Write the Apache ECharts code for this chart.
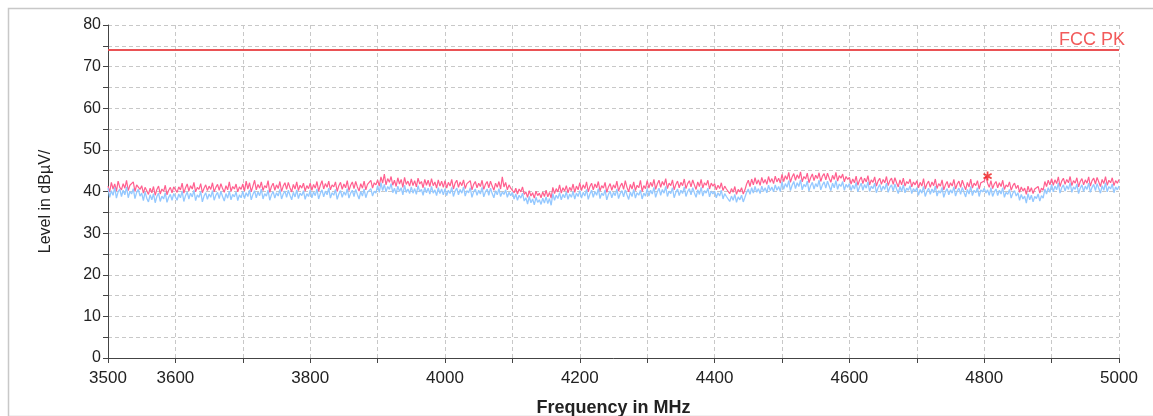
<!DOCTYPE html>
<html>
<head>
<meta charset="utf-8">
<script src="https://cdn.jsdelivr.net/npm/echarts@6/dist/echarts.min.js"></script>
<style>html,body{margin:0;padding:0;background:#fff;overflow:hidden;}#c{width:1153px;height:416px;}</style>
</head>
<body>
<div id="c"></div>
<script>
// Sweep: 3500 MHz to 5000 MHz, one reading every 2.5 MHz
const freqStart = 3500;
const freqStep = 2.5;
const xTickLabels = [3500, 3600, 3800, 4000, 4200, 4400, 4600, 4800, 5000];
const yTickLabels = [0, 10, 20, 30, 40, 50, 60, 70, 80];

// Peak trace (pink), dBµV/m — 40 readings per 100 MHz
const peakValues = [
  41.3,39.9,42.2,40.6,41.8,40.1,42.5,41.0,40.4,41.9,40.8,42.7,40.2,41.5,41.1,42.3,40.0,41.6,42.0,40.5,
  41.4,39.6,41.0,40.2,39.3,40.8,39.7,41.2,39.1,40.5,41.3,39.4,40.6,40.0,41.5,39.2,40.3,41.0,39.7,41.1,
  41.5,39.8,41.1,40.4,42.0,39.6,40.9,41.8,40.1,41.4,40.6,42.2,39.9,41.0,40.5,41.9,39.7,40.8,41.6,40.2,
  41.3,40.5,42.1,39.9,41.0,41.7,40.3,41.9,40.7,39.8,41.4,40.4,42.3,40.0,41.2,40.6,41.8,39.9,41.1,40.5,
  41.8,40.1,42.5,40.6,42.1,39.9,41.3,42.7,40.4,41.7,40.8,42.3,40.2,41.4,40.9,42.6,39.8,41.2,42.0,40.3,
  41.6,40.7,42.4,40.0,41.3,42.1,40.5,42.2,40.9,39.9,41.7,40.6,42.3,40.2,41.5,40.8,42.0,40.1,41.4,40.7,
  42.0,40.3,41.7,40.8,42.4,40.1,41.5,42.6,40.6,41.9,41.0,42.5,40.4,41.6,41.1,42.3,40.0,41.4,42.2,40.5,
  41.8,40.9,42.6,40.2,41.5,42.3,40.7,42.4,41.1,40.1,41.9,40.8,42.5,40.4,41.7,41.3,42.7,40.8,42.1,41.6,
  42.8,41.3,43.5,42.0,44.2,41.6,43.1,42.2,43.6,41.5,42.7,41.2,43.3,41.8,42.9,41.0,43.4,41.7,42.5,41.3,
  43.0,41.4,42.6,41.1,43.2,41.8,42.4,40.9,42.9,41.5,42.7,41.2,43.1,41.4,42.3,40.8,42.8,41.3,42.5,41.0,
  42.6,40.8,42.2,41.3,42.9,40.6,42.0,42.7,41.0,42.3,41.4,42.8,40.7,41.9,41.5,42.6,40.4,41.7,42.4,40.9,
  42.0,41.2,42.7,40.5,41.7,42.4,40.9,42.5,41.3,40.3,42.0,41.0,42.4,40.6,43.5,41.1,42.2,40.4,41.6,40.8,
  41.0,39.7,40.8,39.4,40.6,39.9,41.1,39.3,
  39.9,38.6,40.2,38.9,39.7,38.4,40.1,39.0,39.6,38.5,39.9,38.8,40.3,38.7,39.8,38.4,
  41.0,39.5,40.7,39.9,41.6,39.6,40.9,40.1,41.4,39.7,41.0,40.2,41.8,39.8,41.3,40.4,
  42.1,40.2,41.6,40.7,42.3,39.9,41.2,42.0,40.4,41.8,40.9,42.4,40.1,41.4,40.8,42.2,39.8,41.1,41.9,40.3,
  41.6,40.8,42.5,40.1,41.3,42.0,40.5,42.6,41.0,39.9,41.7,40.6,42.3,40.2,41.5,40.9,42.7,40.0,41.4,40.7,
  42.6,40.8,42.2,41.2,42.9,40.5,41.8,42.7,41.0,42.4,41.5,43.1,40.7,42.0,41.4,42.8,40.4,41.7,42.5,40.9,
  42.2,41.4,43.0,40.7,41.9,42.6,41.1,42.8,41.6,40.5,42.3,41.2,42.9,40.8,42.1,41.5,42.7,40.6,42.0,41.3,
  41.9,40.4,41.5,40.7,42.1,40.2,41.3,40.6,
  41.0,39.5,40.7,39.8,41.2,39.3,40.5,39.9,40.9,39.4,40.4,
  41.8,42.7,41.2,43.0,41.6,43.3,41.8,42.8,41.5,43.4,42.0,42.9,41.7,43.6,42.2,43.1,41.9,43.7,42.3,43.2,42.0,
  44.1,42.4,43.8,42.9,44.6,42.2,43.5,44.3,42.7,44.0,43.1,44.7,42.3,43.6,43.0,44.4,42.1,43.3,44.2,42.6,
  43.9,43.1,44.5,42.4,43.7,44.3,42.8,44.4,43.2,42.2,43.9,42.9,44.6,42.5,43.8,43.2,44.2,42.3,43.6,42.9,
  43.4,41.8,43.0,42.1,43.7,41.5,42.7,43.5,41.9,43.2,42.3,43.8,41.6,42.8,42.2,43.5,41.3,42.5,43.2,41.7,
  42.9,42.1,43.6,41.4,42.6,43.2,41.7,43.3,42.1,41.1,42.8,41.6,43.2,41.3,42.4,41.9,43.0,41.1,42.3,41.6,
  42.6,40.9,42.2,41.3,43.1,40.6,41.8,42.5,41.0,42.3,41.4,43.0,40.7,41.9,41.3,42.8,40.4,41.6,42.4,40.9,
  42.1,41.3,42.9,40.6,41.8,42.5,41.0,42.7,41.5,40.4,42.2,41.1,43.0,40.8,42.0,41.4,42.6,40.6,42.1,41.7,
  42.5,43.7,42.0,41.0,42.6,40.7,41.8,42.4,40.9,42.1,41.2,42.7,40.5,41.6,41.1,42.3,40.3,41.4,42.0,40.7,
  41.5,39.8,41.1,40.1,40.8,39.3,41.3,39.9,40.9,39.5,40.6,40.2,41.2,39.6,40.8,40.3,
  42.4,41.2,42.7,41.6,
  43.1,41.5,42.8,41.9,43.5,41.2,42.5,43.2,41.7,42.9,42.1,43.6,41.4,42.6,42.0,43.3,41.1,42.4,43.1,41.6,
  42.8,42.0,43.5,41.3,42.6,43.2,41.8,43.4,42.3,41.2,42.9,41.9,43.6,41.5,42.7,42.1,43.3,41.4,42.6,42.0,
  42.9
];

// Average trace (light blue), dBµV/m — 40 readings per 100 MHz
const avgValues = [
  40.8,38.6,40.2,39.1,41.0,38.4,39.9,40.6,38.8,40.3,39.2,41.1,38.5,40.0,39.4,40.7,38.3,39.8,40.5,38.9,
  39.6,37.8,39.9,38.4,37.5,39.2,38.0,39.5,37.3,38.8,39.6,37.6,38.9,38.2,39.7,37.4,38.6,39.3,37.9,39.5,
  39.8,37.9,39.4,38.5,40.1,37.6,39.0,39.9,38.2,39.6,38.7,40.3,37.8,39.2,38.6,40.0,37.5,38.9,39.7,38.1,
  39.4,38.6,40.2,37.9,39.1,39.8,38.3,40.0,38.8,37.7,39.5,38.4,40.1,38.0,39.3,38.7,39.9,37.8,39.2,38.5,
  40.1,38.3,39.7,38.8,40.4,38.0,39.3,40.2,38.5,39.9,39.0,40.6,38.2,39.5,38.9,40.3,37.9,39.2,40.0,38.4,
  39.7,38.9,40.5,38.2,39.4,40.1,38.6,40.3,39.1,38.0,39.8,38.7,40.4,38.3,39.6,39.0,40.2,38.1,39.5,38.8,
  40.3,38.5,39.9,39.0,40.6,38.2,39.5,40.4,38.7,40.1,39.2,40.8,38.4,39.7,39.1,40.5,38.1,39.4,40.2,38.6,
  39.9,39.1,40.7,38.4,39.6,40.3,38.8,40.5,39.3,38.2,40.0,38.9,40.6,38.5,39.8,39.4,40.7,38.9,40.1,39.6,
  41.4,39.8,42.1,40.2,41.7,39.9,41.2,40.5,41.9,39.7,40.8,39.4,41.3,40.0,40.9,39.2,41.5,39.8,40.6,39.5,
  41.1,39.6,40.7,39.3,41.4,39.9,40.5,39.1,41.0,39.7,40.8,39.4,41.2,39.6,40.4,39.0,40.9,39.5,40.6,39.2,
  40.7,39.0,40.3,39.5,41.0,38.8,40.1,40.8,39.2,40.5,39.6,41.1,38.9,40.2,39.7,40.9,38.6,39.9,40.6,39.1,
  40.3,39.4,41.0,38.7,39.9,40.6,39.1,40.8,39.5,38.5,40.2,39.2,40.7,38.8,39.9,39.3,40.4,38.6,39.8,39.0,
  39.8,38.2,39.4,37.9,39.1,38.4,39.6,37.7,
  38.5,37.0,38.8,37.3,38.2,36.8,38.6,37.4,38.0,36.9,38.4,37.2,38.7,37.1,38.3,36.7,
  39.5,37.9,39.1,38.3,39.7,38.0,39.3,38.5,39.9,38.1,39.4,38.6,40.0,38.2,39.6,38.8,
  40.2,38.4,39.8,38.9,40.5,38.1,39.4,40.3,38.6,40.0,39.1,40.7,38.3,39.6,39.0,40.4,38.0,39.3,40.1,38.5,
  39.8,39.0,40.6,38.3,39.5,40.2,38.7,40.4,39.2,38.1,39.9,38.8,40.5,38.4,39.7,39.1,40.3,38.2,39.6,38.9,
  40.7,38.9,40.3,39.4,41.0,38.6,39.9,40.8,39.1,40.5,39.6,41.2,38.8,40.1,39.5,40.9,38.5,39.8,40.6,39.0,
  40.3,39.5,41.1,38.8,40.0,40.7,39.2,40.9,39.7,38.6,40.4,39.3,41.0,38.9,40.2,39.6,40.8,38.7,40.1,39.4,
  40.1,38.5,39.7,38.9,40.3,38.2,39.5,38.8,
  39.2,37.6,38.9,37.9,39.3,37.4,38.7,38.0,39.1,37.5,38.6,
  39.8,40.6,39.3,40.9,39.6,41.2,39.8,40.7,39.5,41.3,40.0,40.9,39.7,41.5,40.2,41.1,39.9,41.6,40.3,41.2,40.0,
  42.3,40.5,41.9,41.0,42.6,40.2,41.5,42.4,40.7,42.1,41.2,42.8,40.4,41.7,41.1,42.5,40.1,41.4,42.2,40.6,
  41.9,41.1,42.7,40.4,41.6,42.3,40.8,42.5,41.3,40.2,42.0,40.9,42.6,40.5,41.8,41.2,42.4,40.3,41.7,41.0,
  41.9,40.2,41.5,40.6,42.2,39.9,41.1,42.0,40.3,41.7,40.8,42.3,40.0,41.3,40.7,42.0,39.7,40.9,41.7,40.1,
  41.3,40.5,42.0,39.8,41.0,41.6,40.1,41.8,40.6,39.5,41.2,40.0,41.6,39.7,40.8,40.3,41.4,39.5,40.7,40.0,
  40.9,39.1,40.5,39.6,41.2,38.8,40.0,40.8,39.3,40.6,39.7,41.3,38.9,40.2,39.6,41.0,38.6,39.9,40.7,39.2,
  40.4,39.6,41.1,38.9,40.1,40.8,39.3,41.0,39.8,38.7,40.5,39.4,41.2,39.0,40.3,39.7,40.9,38.8,40.4,39.9,
  40.8,39.6,40.4,39.1,40.9,38.8,39.9,40.6,39.0,40.3,39.4,40.9,38.6,39.8,39.3,40.5,38.4,39.6,40.2,38.9,
  39.7,37.9,39.3,38.2,38.9,37.2,39.5,38.0,39.1,37.5,38.8,38.3,39.4,37.7,39.0,38.4,
  40.6,39.4,40.9,39.8,
  41.7,39.9,41.3,40.4,42.0,39.6,40.9,41.6,40.1,41.4,40.5,42.1,39.8,41.1,40.5,41.8,39.5,40.8,41.6,40.0,
  41.3,40.5,42.0,39.8,41.0,41.7,40.2,41.9,40.7,39.6,41.4,40.3,42.1,39.9,41.2,40.6,41.8,39.7,41.1,40.4,
  41.3
];

// FCC peak limit line
const limitName = 'FCC PK';
const limitLevel = 74;
// Marked maximum
const markerFreq = 4805;
const markerLevel = 43.7;

const toPairs = vals => vals.map((v, i) => [freqStart + freqStep * i, v]);
const fontFam = '"Liberation Sans", Arial, sans-serif';

const chart = echarts.init(document.getElementById('c'), null, {renderer: 'canvas'});
chart.setOption({
  animation: false,
  backgroundColor: '#ffffff',
  graphic: [{
    type: 'rect', left: 6, top: 6, z: -10,
    shape: {width: 1160, height: 408},
    style: {fill: 'none', stroke: '#c8c8c8', lineWidth: 1.5}
  }],
  grid: {left: 108, right: 34, top: 25, bottom: 58, containLabel: false, outerBoundsMode: 'none'},
  xAxis: {
    type: 'value', min: 3500, max: 5000, interval: 100,
    name: 'Frequency in MHz', nameLocation: 'middle', nameGap: 41,
    nameTextStyle: {fontFamily: fontFam, fontSize: 18, fontWeight: 'bold', color: '#222'},
    axisLine: {show: true, onZero: false, lineStyle: {color: '#444', width: 1}},
    axisTick: {show: true, length: 5, inside: false, lineStyle: {color: '#444'}},
    axisLabel: {
      fontFamily: fontFam, fontSize: 17, color: '#222', margin: 12,
      formatter: v => xTickLabels.indexOf(v) >= 0 ? String(v) : ''
    },
    splitLine: {show: true, lineStyle: {color: '#c8c8c8', type: [4, 3], width: 1}}
  },
  yAxis: {
    type: 'value', min: 0, max: 80, interval: 5,
    name: 'Level in dBµV/', nameLocation: 'middle', nameGap: 54, nameRotate: 90,
    nameTextStyle: {fontFamily: fontFam, fontSize: 16, color: '#222', padding: [0, 20, 0, 0]},
    axisLine: {show: true, lineStyle: {color: '#444', width: 1}},
    axisTick: {show: true, length: 5, lineStyle: {color: '#444'}},
    axisLabel: {
      fontFamily: fontFam, fontSize: 16, color: '#222', margin: 7,
      formatter: v => yTickLabels.indexOf(v) >= 0 ? String(v) : ''
    },
    splitLine: {show: true, lineStyle: {color: '#c8c8c8', type: [4, 3], width: 1}}
  },
  series: [
    {
      name: 'Peak', type: 'line', data: toPairs(peakValues), showSymbol: false,
      lineStyle: {color: '#ff5f8f', width: 1.2}, z: 2
    },
    {
      name: 'Average', type: 'line', data: toPairs(avgValues), showSymbol: false,
      lineStyle: {color: '#94c8ff', width: 1.3}, z: 3
    },
    {
      name: limitName, type: 'line', data: [[3500, limitLevel], [5000, limitLevel]],
      showSymbol: false, lineStyle: {color: '#e8474a', width: 1.5}, z: 4,
      markLine: {
        silent: true, symbol: 'none',
        lineStyle: {color: '#e8474a', width: 1.5, type: 'solid'},
        data: [{yAxis: limitLevel}],
        label: {show: true, formatter: limitName, position: 'insideEndTop', distance: [-6, 1],
                color: '#f25a5a', fontFamily: fontFam, fontSize: 18}
      }
    },
    {
      name: 'Marker', type: 'scatter', data: [[markerFreq, markerLevel]],
      symbol: 'path://M4,0 L6,0 L6,3.3 L9.2,1.5 L10.2,3.2 L7,5 L10.2,6.8 L9.2,8.5 L6,6.7 L6,10 L4,10 L4,6.7 L0.8,8.5 L-0.2,6.8 L3,5 L-0.2,3.2 L0.8,1.5 L4,3.3 Z',
      symbolSize: 9, itemStyle: {color: '#ee1c1c'}, z: 6
    }
  ]
});
</script>
</body>
</html>
